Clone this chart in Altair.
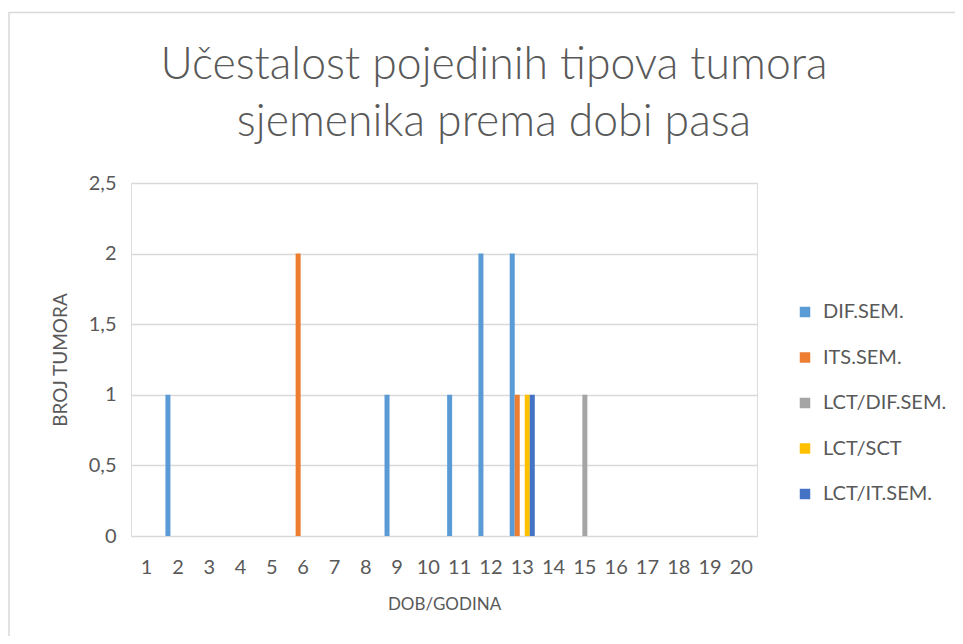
import altair as alt
import pandas as pd

ages = [str(i) for i in range(1, 21)]
series = ["DIF.SEM.", "ITS.SEM.", "LCT/DIF.SEM.", "LCT/SCT", "LCT/IT.SEM."]
colors = ["#5B9BD5", "#ED7D31", "#A5A5A5", "#FFC000", "#4472C4"]

dif_sem = [0, 1, 0, 0, 0, 0, 0, 0, 1, 0, 1, 2, 2, 0, 0, 0, 0, 0, 0, 0]
its_sem = [0, 0, 0, 0, 0, 2, 0, 0, 0, 0, 0, 0, 1, 0, 0, 0, 0, 0, 0, 0]
lct_dif_sem = [0, 0, 0, 0, 0, 0, 0, 0, 0, 0, 0, 0, 0, 0, 1, 0, 0, 0, 0, 0]
lct_sct = [0, 0, 0, 0, 0, 0, 0, 0, 0, 0, 0, 0, 1, 0, 0, 0, 0, 0, 0, 0]
lct_it_sem = [0, 0, 0, 0, 0, 0, 0, 0, 0, 0, 0, 0, 1, 0, 0, 0, 0, 0, 0, 0]

title_lines = ["Učestalost pojedinih tipova tumora", "sjemenika prema dobi pasa"]
y_ticks = [0, 0.5, 1, 1.5, 2, 2.5]

values = [dif_sem, its_sem, lct_dif_sem, lct_sct, lct_it_sem]
rows = []
for s, vals in zip(series, values):
    for a, v in zip(ages, vals):
        if v > 0:
            rows.append({"dob": a, "tip": s, "broj": v})
df = pd.DataFrame(rows)

FONT = "Lato"
GREY = "#595959"

bars = alt.Chart(df).mark_bar().encode(
    x=alt.X("dob:N", sort=ages,
            scale=alt.Scale(domain=ages, paddingInner=0.2, paddingOuter=0.1),
            axis=alt.Axis(title="DOB/GODINA", labelAngle=0, domain=False, ticks=False,
                          grid=False, labelFontSize=20, labelColor=GREY, labelFont=FONT,
                          labelPadding=21, titleFontSize=17, titleFont=FONT,
                          titleColor=GREY, titleFontWeight="normal", titlePadding=19)),
    xOffset=alt.XOffset("tip:N", sort=series,
                        scale=alt.Scale(domain=series, paddingInner=0, paddingOuter=0)),
    y=alt.Y("broj:Q", scale=alt.Scale(domain=[0, 2.5], nice=False),
            axis=alt.Axis(title="BROJ TUMORA", values=y_ticks, domain=False, ticks=False,
                          gridColor="#D9D9D9", gridWidth=1.3,
                          labelExpr="replace(toString(datum.value), '.', ',')",
                          labelFontSize=20, labelColor=GREY, labelFont=FONT,
                          labelPadding=15, titleFontSize=19, titleFont=FONT,
                          titleColor=GREY, titleFontWeight="normal", titlePadding=18)),
    color=alt.Color("tip:N", sort=series,
                    scale=alt.Scale(domain=series, range=colors),
                    legend=alt.Legend(title=None, orient="none", legendX=664, legendY=119,
                                      symbolType="square", symbolSize=110,
                                      symbolStrokeWidth=0, labelFontSize=20,
                                      labelFont=FONT, labelColor=GREY, rowPadding=25.5,
                                      labelOffset=8)),
)

one = pd.DataFrame({"k": [0]})

title = alt.Chart(one).mark_text(
    font=FONT, fontSize=44.5, fontWeight=300, color=GREY, align="center",
    baseline="alphabetic", lineHeight=57).encode(
    x=alt.value(363), y=alt.value(-104), text=alt.value(title_lines))

border_left = alt.Chart(one).mark_rule(
    color="#D9D9D9", strokeWidth=1.5).encode(
    x=alt.value(-122), y=alt.value(-170.5), y2=alt.value(480))
border_top = alt.Chart(one).mark_rule(
    color="#D9D9D9", strokeWidth=1.5).encode(
    x=alt.value(-122.5), x2=alt.value(900), y=alt.value(-170.5))

chart = alt.layer(bars, title, border_left, border_top).properties(
    width=626, height=353,
    autosize=alt.AutoSizeParams(type="none"),
    padding={"left": 123, "top": 175, "right": 198, "bottom": 100},
).configure_view(stroke=None).configure(background="white")

chart.save("out.html", embed_options={"renderer": "svg", "actions": False})
